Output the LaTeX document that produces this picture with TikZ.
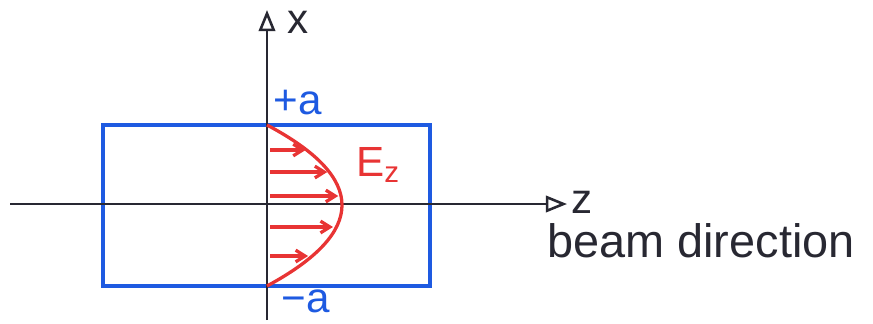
\documentclass[tikz,border=0pt]{standalone}
\usepackage{fontspec}
\setmainfont{Liberation Sans}
\usetikzlibrary{arrows.meta}
\definecolor{penblue}{RGB}{30,90,225}
\definecolor{penred}{RGB}{232,52,52}
\definecolor{penblack}{RGB}{40,40,50}
\begin{document}
\begin{tikzpicture}[
    x=0.03cm, y=0.03cm,
    axis/.style={penblack, line width=2.4pt, -{Triangle[open, length=18pt, width=14pt, line width=2.2pt]}},
    wall/.style={penblue, line width=3.6pt},
    field/.style={penred, line width=2.8pt},
    lab/.style={inner sep=0pt, font=\fontsize{36}{40}\selectfont}
]
\useasboundingbox (0,0) rectangle (873,323);

% Guide walls
\draw[wall] (103,37) rectangle (430,198);

% Axes
\coordinate (zs) at (10,119);
\coordinate (ze) at (567,119);
\coordinate (xs) at (267,3);
\coordinate (xe) at (267,313);
\draw[axis] (zs) -- (ze);
\draw[axis] (xs) -- (xe);

% Field profile
\draw[field] (267,198) .. controls (367,145) and (367,91) .. (267,37);
\foreach \y [count=\i] in {173,151,127,96,67} {
    \pgfmathsetmacro\xe{267+75*(1-((\y-119)/81)^2)-3}
    \coordinate (f\i) at (270,\y);
    \coordinate (g\i) at (\xe,\y);
    \draw[field, -{Straight Barb[length=8pt, width=10pt]}] (f\i) -- (g\i);
}

% Labels
\node[lab, penblack] (xlab) at (298,301) {x};
\node[lab, penblack] (zlab) at (582,121) {z};
\node[lab, penblack, font=\fontsize{40}{44}\selectfont] (beam) at (701,82) {beam direction};
\node[lab, penblue] (top) at (298,220) {+a};
\node[lab, penblue] (bot) at (306,22) {−a};
\node[lab, penred] (ez) at (378,158) {E$_\mathrm{z}$};

\end{tikzpicture}
\end{document}
